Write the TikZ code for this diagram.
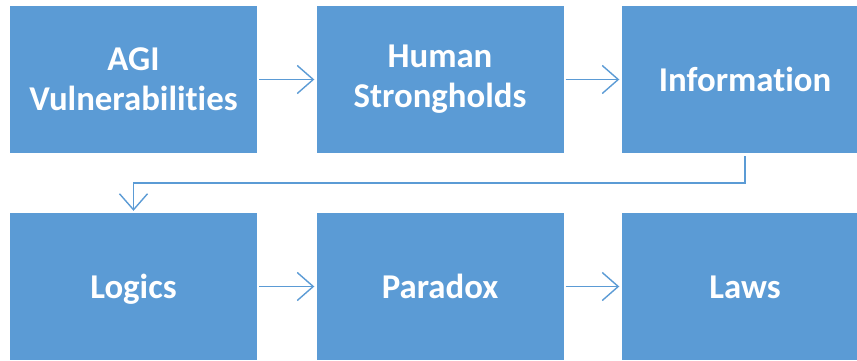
\documentclass[tikz,border=0pt]{standalone}
\usepackage{fontspec}
\setmainfont{Carlito}[Ligatures=NoCommon]
\usetikzlibrary{arrows.meta}
\definecolor{boxblue}{HTML}{5B9BD5}
\begin{document}
\begin{tikzpicture}[x=1pt,y=-1pt,
  stage/.style={fill=boxblue, draw=none, inner sep=0pt,
    minimum width=247pt, minimum height=147pt,
    text=white, align=center,
    font=\fontsize{34.8}{40}\selectfont\bfseries},
  oneline/.style={text height=23pt, text depth=0pt},
  link/.style={draw=boxblue, line width=1.4pt,
    -{Straight Barb[length=16pt,width=28pt,line width=1.4pt]},
    shorten <=2pt, shorten >=2pt}]
  \useasboundingbox (0,0) rectangle (857,360);
  \clip (0,0) rectangle (857,360);
  \fill[white] (0,0) rectangle (857,360);

  % top row
  \node[stage] (agi)   at (133.5,79.5) {AGI\\Vulnerabilities};
  \node[stage] (human) at (440,79.5)   {Human\\Strongholds};
  \node[stage, oneline] (info)  at (745,79.5) {Information};
  % bottom row
  \node[stage, oneline] (logic) at (133.5,286.5) {Logics};
  \node[stage, oneline] (para)  at (440,286.5)   {Paradox};
  \node[stage, oneline] (laws)  at (745,286.5)   {Laws};

  \coordinate (bend) at (745,183);

  \draw[link] (agi) -- (human);
  \draw[link] (human) -- (info);
  \draw[link, shorten <=3pt] (info.south) -- (bend) -| (logic.north);
  \draw[link] (logic) -- (para);
  \draw[link] (para) -- (laws);
\end{tikzpicture}
\end{document}
